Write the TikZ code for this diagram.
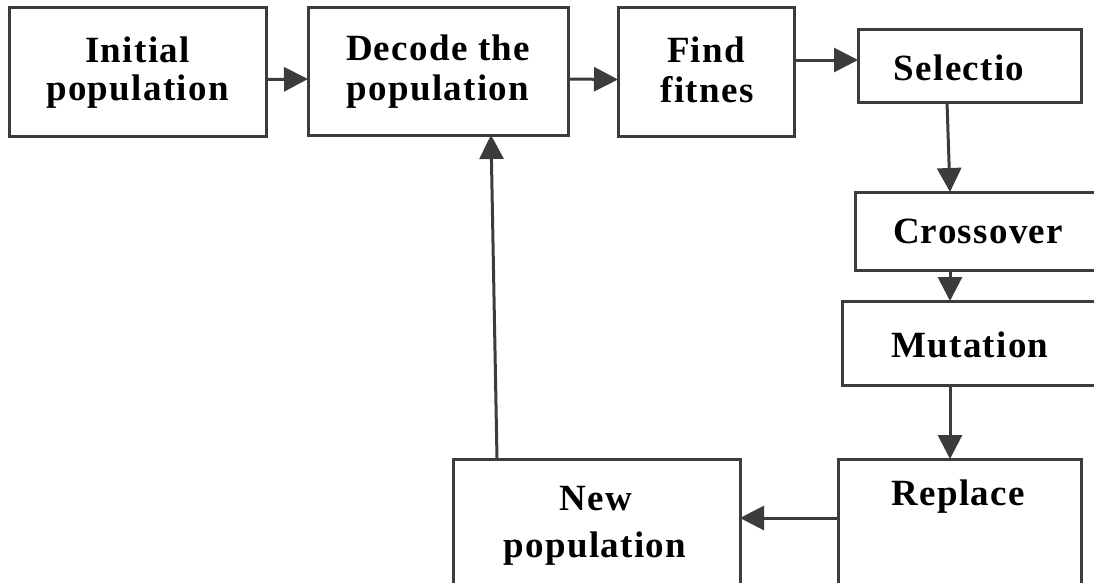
\documentclass[tikz,border=0pt]{standalone}
\usepackage{fontspec}
\setmainfont{Liberation Serif}[LetterSpace=3.5]
\usetikzlibrary{arrows.meta,calc}
\definecolor{linegray}{HTML}{3C3C3C}
\begin{document}
\begin{tikzpicture}[x=1pt,y=-1pt,
  box/.style={draw=linegray,line width=3pt,minimum width=#1,inner sep=0pt,outer sep=0pt},
  lbl/.style={font=\fontsize{37}{38}\selectfont\bfseries,align=center,inner sep=0pt},
  arr/.style={draw=linegray,line width=3pt,-{Triangle[length=24pt,width=24pt]}}]
\useasboundingbox (0,0) rectangle (1094,582);
\clip (0,0) rectangle (1094,582);
\fill[white] (0,0) rectangle (1094,582);
% boxes
\node[box=257pt,minimum height=129pt] (init)   at (137.5,71.5) {};
\node[box=260pt,minimum height=128pt] (decode) at (438,71) {};
\node[box=176pt,minimum height=129pt] (find)   at (706,71.5) {};
\node[box=223pt,minimum height=73pt]  (sel)    at (969.5,65.5) {};
\node[box=246pt,minimum height=78pt]  (cross)  at (978,231) {};
\node[box=256pt,minimum height=84pt]  (mut)    at (970,343) {};
\node[box=243pt,minimum height=141pt] (repl)   at (959.5,529.5) {};
\node[box=287pt,minimum height=141pt] (newp)   at (596.5,529.5) {};
% labels
\node[lbl,anchor=base] (tinit1) at (137.5,62) {Initial};
\node[lbl,anchor=base] (tinit2) at (137.5,100) {population};
\node[lbl,anchor=base] (tdec1) at (438,60) {Decode the};
\node[lbl,anchor=base] (tdec2) at (438,100) {population};
\node[lbl,anchor=base] (tfind1) at (706,62) {Find};
\node[lbl,anchor=base] (tfind2) at (707,102) {fitnes};
\node[lbl,anchor=base] (tsel) at (959,80) {Selectio};
\node[lbl,anchor=base] (tcross) at (978,243) {Crossover};
\node[lbl,anchor=base] (tmut) at (970,357) {Mutation};
\node[lbl,anchor=base] (trepl) at (958,505) {Replace};
\node[lbl,anchor=base] (tnew1) at (596,510) {New};
\node[lbl,anchor=base] (tnew2) at (595,557) {population};
% connectors
\draw[arr] ([yshift=-8pt]init.east) -- ([yshift=-8pt]decode.west);
\draw[arr] ([yshift=-8pt]decode.east) -- ([yshift=-8pt]find.west);
\draw[arr] ([yshift=11.5pt]find.east) -- ([yshift=5.5pt]sel.west);
\draw[arr] ([xshift=-22.5pt]sel.south) -- ([xshift=-28pt]cross.north);
\draw[arr] ([xshift=-28pt]cross.south) -- ([xshift=-20pt]mut.north);
\draw[arr] ([xshift=-20pt]mut.south) -- ([xshift=-9.5pt]repl.north);
\draw[arr] ([yshift=11.5pt]repl.west) -- ([yshift=11.5pt]newp.east);
\draw[arr] ([xshift=-99.5pt]newp.north) -- ([xshift=53pt]decode.south);
\end{tikzpicture}
\end{document}
